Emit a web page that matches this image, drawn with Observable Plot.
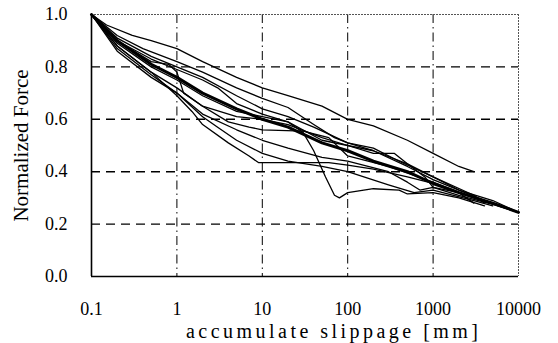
<!DOCTYPE html>
<html>
<head>
<meta charset="utf-8">
<script src="https://cdn.jsdelivr.net/npm/d3@7"></script>
<script src="https://cdn.jsdelivr.net/npm/@observablehq/plot@0.6"></script>
<style>
  html, body { margin: 0; padding: 0; background: #fff; }
  #chart svg { display: block; }
</style>
</head>
<body>
<div id="chart"></div>
<script>
// x: accumulated slippage [mm], y: normalized force
const xTicks = [0.1, 1, 10, 100, 1000, 10000];
const yTicks = [0.0, 0.2, 0.4, 0.6, 0.8, 1.0];
const xTitle = "accumulate slippage [mm]";
const yTitle = "Normalized Force";

const test1 = [[0.1,1],[0.15,0.96],[0.3,0.92],[0.5,0.9],[1,0.87],[2,0.82],[5,0.76],[10,0.72],[20,0.69],[50,0.65],[100,0.6],[200,0.575],[500,0.52],[1000,0.47],[2000,0.42],[3000,0.4]];
const test2 = [[0.1,1],[0.2,0.92],[0.4,0.87],[1,0.82],[2,0.78],[5,0.72],[10,0.68],[20,0.645],[40,0.58],[70,0.53],[100,0.51],[200,0.49],[400,0.44],[1000,0.38],[2000,0.33],[4000,0.29],[10000,0.245]];
const test3 = [[0.1,1],[0.2,0.9],[0.5,0.82],[0.8,0.81],[1,0.78],[1.2,0.7],[2,0.65],[5,0.61],[10,0.6],[20,0.58],[50,0.53],[100,0.5],[200,0.47],[350,0.47],[500,0.43],[800,0.38],[1000,0.34],[2000,0.32],[3000,0.28]];
const test4 = [[0.1,1],[0.2,0.89],[0.5,0.8],[1,0.75],[2,0.69],[5,0.63],[10,0.61],[20,0.59],[30,0.55],[40,0.48],[55,0.38],[70,0.31],[80,0.3],[100,0.32],[200,0.335],[400,0.33],[500,0.315],[1000,0.32],[2000,0.3],[4000,0.27]];
const test5 = [[0.1,1],[0.2,0.88],[0.5,0.78],[1,0.69],[1.5,0.63],[2,0.58],[4,0.51],[7,0.46],[9,0.435],[20,0.435],[60,0.435],[100,0.425],[200,0.41],[500,0.38],[1000,0.355],[2000,0.32],[4000,0.29],[10000,0.245]];
const test6 = [[0.1,1],[0.2,0.88],[0.5,0.78],[1,0.72],[2,0.65],[4,0.59],[7,0.57],[10,0.56],[30,0.555],[60,0.53],[100,0.46],[300,0.42],[1000,0.36],[3000,0.3],[10000,0.245]];
const test7 = [[0.1,1],[0.2,0.86],[0.5,0.76],[1,0.7],[2,0.62],[5,0.56],[10,0.52],[20,0.49],[50,0.455],[100,0.44],[300,0.4],[500,0.36],[700,0.33],[1000,0.34],[2000,0.31],[5000,0.275],[10000,0.245]];
const test8 = [[0.1,1],[0.2,0.9],[0.5,0.83],[1,0.79],[2,0.75],[3,0.72],[5,0.66],[10,0.62],[20,0.59],[50,0.52],[100,0.5],[200,0.48],[500,0.42],[1000,0.37],[2000,0.33],[5000,0.29],[10000,0.245]];
const test9 = [[0.1,1],[0.2,0.91],[0.5,0.84],[1,0.8],[2,0.76],[5,0.69],[10,0.64],[20,0.61],[40,0.57],[100,0.51],[200,0.48],[500,0.43],[1000,0.38],[3000,0.31],[4000,0.28]];
const test10 = [[0.1,1],[0.2,0.87],[0.5,0.77],[1,0.7],[2,0.61],[3,0.57],[5,0.52],[10,0.47],[20,0.44],[50,0.42],[100,0.4],[300,0.35],[600,0.32],[1000,0.33],[3000,0.29],[5000,0.27]];
const average = [[0.1,1],[0.2,0.9],[0.5,0.81],[1,0.76],[2,0.7],[5,0.64],[10,0.6],[20,0.57],[50,0.51],[100,0.48],[200,0.44],[500,0.4],[1000,0.355],[2000,0.32],[5000,0.28],[10000,0.245]];

const thinSeries = {test1, test2, test3, test4, test5, test6, test7, test8, test9, test10};
const thinRows = Object.entries(thinSeries).flatMap(([name, pts]) => pts.map(([x, y]) => ({name, x, y})));
const avgRows = average.map(([x, y]) => ({x, y}));

const chart = Plot.plot({
  width: 558,
  height: 343,
  marginLeft: 91,
  marginRight: 40,
  marginTop: 14,
  marginBottom: 67,
  style: {fontFamily: "'Liberation Serif', 'Times New Roman', serif", fontSize: "18px", color: "#000", background: "#fff", overflow: "visible"},
  x: {type: "log", domain: [0.1, 10000]},
  y: {domain: [0, 1]},
  marks: [
    Plot.ruleY(yTicks.filter(d => d > 0 && d < 1), {stroke: "#000", strokeWidth: 1.4, strokeDasharray: "9,6"}),
    Plot.ruleX(xTicks.filter(d => d > 0.1 && d < 10000), {stroke: "#000", strokeWidth: 1, strokeDasharray: "9,4,1.5,4"}),
    Plot.ruleY([1], {stroke: "#555", strokeWidth: 1, strokeDasharray: "2,1"}),
    Plot.ruleX([10000], {stroke: "#555", strokeWidth: 1, strokeDasharray: "2,1"}),
    Plot.line(thinRows, {x: "x", y: "y", z: "name", stroke: "#000", strokeWidth: 1.3}),
    Plot.line(avgRows, {x: "x", y: "y", stroke: "#000", strokeWidth: 3}),
    Plot.ruleX([0.1], {stroke: "#000", strokeWidth: 1.6}),
    Plot.ruleY([0], {stroke: "#000", strokeWidth: 1.6}),
    Plot.axisX({ticks: xTicks, tickFormat: d => String(d), tickSize: 0, tickPadding: 26, label: null, fontSize: 18}),
    Plot.axisY({ticks: yTicks, tickFormat: d => d.toFixed(1), tickSize: 0, tickPadding: 24, label: null, fontSize: 18}),
    Plot.text([yTitle], {frameAnchor: "left", dx: -70, rotate: -90, textAnchor: "middle", fontSize: 21, text: d => d}),
    Plot.text([xTitle], {frameAnchor: "bottom", dx: 27, dy: 55, textAnchor: "middle", fontSize: 20, lineAnchor: "middle", text: d => d})
  ]
});
d3.select(chart).selectAll("text")
  .filter(function() { return this.textContent === xTitle; })
  .attr("textLength", 292)
  .attr("lengthAdjust", "spacing");
document.getElementById("chart").appendChild(chart);
</script>
</body>
</html>
